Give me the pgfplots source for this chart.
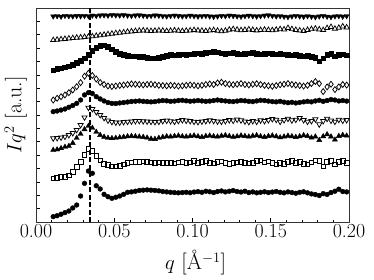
\documentclass[border=0pt]{standalone}
\usepackage{pgfplots}
\usepackage{pgfplotstable}
\pgfplotsset{compat=1.18}
\pgfplotstableread{
q s1 s2 s3 s4 s5 s6 s7 s8 s9
0.0110 0.40 3.27 5.38 6.26 8.25 9.12 11.36 13.60 15.38
0.0135 0.47 3.31 5.42 6.28 8.30 9.25 11.44 13.63 15.40
0.0160 0.58 3.36 5.51 6.32 8.37 9.37 11.49 13.66 15.36
0.0185 0.70 3.39 5.61 6.38 8.45 9.50 11.57 13.69 15.42
0.0210 0.82 3.50 5.68 6.50 8.58 9.67 11.66 13.72 15.40
0.0235 1.05 3.75 5.90 6.65 8.71 9.87 11.78 13.75 15.38
0.0260 1.27 4.10 6.28 6.88 8.87 10.12 11.89 13.78 15.41
0.0285 1.94 4.50 6.58 7.25 9.12 10.42 12.07 13.80 15.39
0.0310 2.89 5.00 6.93 7.82 9.50 10.90 12.26 13.83 15.42
0.0335 3.81 5.45 7.18 8.55 9.67 11.12 12.49 13.86 15.40
0.0360 3.64 5.30 7.03 8.45 9.61 10.95 12.79 13.88 15.44
0.0385 2.71 4.95 6.73 8.22 9.37 10.69 13.01 13.92 15.42
0.0410 2.47 4.60 6.50 8.00 9.20 10.43 13.20 13.96 15.45
0.0435 2.07 4.35 6.36 7.78 9.05 10.28 13.23 14.00 15.46
0.0460 1.89 4.25 6.28 7.59 8.93 10.17 13.12 14.04 15.44
0.0485 1.77 4.15 6.26 7.48 8.87 10.13 12.93 14.08 15.48
0.0510 1.85 4.15 6.28 7.44 8.86 10.17 12.75 14.12 15.46
0.0535 1.94 4.20 6.32 7.44 8.90 10.21 12.60 14.15 15.45
0.0560 2.07 4.30 6.36 7.48 8.93 10.24 12.52 14.18 15.47
0.0585 2.22 4.40 6.40 7.50 8.97 10.28 12.45 14.22 15.44
0.0610 2.25 4.45 6.42 7.52 9.01 10.32 12.41 14.25 15.42
0.0635 2.30 4.48 6.40 7.55 9.03 10.30 12.40 14.28 15.45
0.0660 2.36 4.50 6.38 7.56 9.05 10.28 12.38 14.30 15.46
0.0685 2.38 4.52 6.35 7.54 9.02 10.25 12.35 14.32 15.43
0.0710 2.40 4.48 6.30 7.52 9.00 10.28 12.30 14.30 15.40
0.0735 2.38 4.45 6.22 7.50 8.98 10.30 12.26 14.28 15.42
0.0760 2.36 4.42 6.20 7.48 9.00 10.26 12.25 14.30 15.45
0.0785 2.33 4.45 6.28 7.50 9.05 10.22 12.30 14.32 15.43
0.0810 2.28 4.40 6.35 7.55 9.08 10.20 12.38 14.30 15.40
0.0835 2.25 4.44 6.40 7.58 9.06 10.18 12.45 14.28 15.38
0.0860 2.22 4.42 6.38 7.54 9.02 10.22 12.50 14.30 15.42
0.0885 2.20 4.38 6.42 7.50 9.04 10.20 12.48 14.33 15.44
0.0910 2.18 4.45 6.45 7.56 9.08 10.16 12.52 14.30 15.41
0.0935 2.20 4.50 6.40 7.62 9.10 10.18 12.55 14.28 15.38
0.0960 2.22 4.42 6.38 7.58 9.06 10.22 12.50 14.30 15.40
0.0985 2.19 4.46 6.42 7.55 9.03 10.25 12.55 14.32 15.43
0.1010 2.24 4.55 6.46 7.50 9.05 10.22 12.60 14.35 15.40
0.1035 2.27 4.40 6.40 7.48 9.08 10.18 12.62 14.32 15.37
0.1060 2.22 4.50 6.35 7.52 9.05 10.22 12.58 14.30 15.40
0.1085 2.30 4.55 6.42 7.55 9.02 10.28 12.65 14.28 15.42
0.1110 2.26 4.42 6.45 7.60 9.04 10.32 12.70 14.32 15.38
0.1135 2.20 4.38 6.40 7.56 9.08 10.28 12.72 14.35 15.35
0.1160 2.28 4.48 6.38 7.52 9.12 10.40 12.68 14.30 15.38
0.1185 2.32 4.52 6.44 7.50 9.08 10.45 12.62 14.26 15.42
0.1210 2.25 4.40 6.48 7.55 9.05 10.35 12.58 14.30 15.40
0.1235 2.30 4.36 6.42 7.62 9.02 10.30 12.62 14.38 15.44
0.1260 2.35 4.40 6.36 7.58 9.00 10.26 12.66 14.42 15.41
0.1285 2.28 4.45 6.40 7.66 9.04 10.30 12.60 14.38 15.38
0.1310 2.24 4.50 6.46 7.60 9.08 10.35 12.55 14.34 15.36
0.1335 2.30 4.42 6.42 7.52 9.06 10.28 12.58 14.36 15.40
0.1360 2.20 4.38 6.38 7.48 9.02 10.25 12.62 14.40 15.43
0.1385 2.25 4.40 6.44 7.55 9.00 10.30 12.65 14.36 15.40
0.1410 2.18 4.55 6.48 7.50 9.05 10.34 12.60 14.32 15.37
0.1435 2.22 4.60 6.40 7.60 9.10 10.28 12.56 14.35 15.40
0.1460 2.26 4.45 6.35 7.55 9.08 10.22 12.60 14.38 15.44
0.1485 2.20 4.52 6.42 7.62 9.04 10.18 12.62 14.36 15.46
0.1510 2.24 4.40 6.46 7.70 9.00 10.15 12.58 14.34 15.42
0.1535 2.28 4.32 6.40 7.65 8.98 10.20 12.55 14.38 15.38
0.1560 2.22 4.40 6.32 7.50 9.02 10.26 12.60 14.42 15.40
0.1585 2.18 4.36 6.38 7.62 8.96 10.30 12.56 14.40 15.36
0.1610 2.25 4.50 6.44 7.72 8.92 10.35 12.50 14.50 15.33
0.1635 2.20 4.55 6.40 7.60 8.95 10.28 12.48 14.42 15.38
0.1660 2.15 4.42 6.35 7.65 8.90 10.24 12.52 14.36 15.42
0.1685 2.22 4.48 6.40 7.78 8.94 10.20 12.45 14.32 15.38
0.1710 2.26 4.35 6.48 7.62 8.98 10.16 12.40 14.28 15.35
0.1735 2.18 4.30 6.42 7.50 9.02 10.22 12.42 14.36 15.40
0.1760 2.10 4.45 6.30 7.55 8.98 10.35 12.38 14.42 15.36
0.1785 2.05 4.60 6.38 7.68 9.05 10.50 12.30 14.46 15.32
0.1810 1.98 4.55 6.12 7.30 9.10 10.35 12.02 14.40 15.38
0.1835 2.12 4.15 6.40 7.55 9.02 9.75 12.25 14.35 15.42
0.1860 2.06 4.50 6.55 7.72 9.08 10.10 12.50 14.50 15.36
0.1885 2.20 4.58 6.38 7.58 9.15 10.30 12.60 14.58 15.33
0.1910 2.30 4.30 6.15 7.50 9.12 9.90 12.40 14.45 15.38
0.1935 2.45 4.48 6.42 7.65 9.05 10.10 12.50 14.52 15.40
0.1960 2.28 4.55 6.50 7.58 9.08 10.28 12.55 14.62 15.36
0.1985 2.25 4.42 6.45 7.62 9.04 10.24 12.48 14.55 15.40
}\datatable
\begin{document}
\begin{tikzpicture}
\begin{axis}[
  scale only axis,
  width=313bp, height=214bp,
  xmin=0, xmax=0.2, ymin=0, ymax=16,
  xtick={0,0.05,0.1,0.15,0.2},
  minor xtick={0.01,0.02,0.03,0.04,0.06,0.07,0.08,0.09,0.11,0.12,0.13,0.14,0.16,0.17,0.18,0.19},
  xticklabels={0.00,0.05,0.10,0.15,0.20},
  ytick={1,2,...,15},
  yticklabels={},
  xtick pos=bottom, ytick pos=left,
  tick align=inside,
  major tick length=4pt, minor tick length=2.5pt,
  tick style={black, line width=0.6pt},
  axis line style={line width=0.7pt, black!80},
  tick label style={font=\fontsize{20}{24}\selectfont},
  xticklabel style={inner sep=2pt},
  label style={font=\fontsize{22}{26}\selectfont},
  xlabel={$q$ [\AA$^{-1}$]},
  ylabel={$Iq^2$ [a.u.]},
  every axis y label/.append style={at={(axis description cs:-0.065,0.5)}, anchor=center},
  every axis x label/.append style={at={(axis description cs:0.51,-0.224)}, anchor=base},
  clip=false,
]
\addplot[only marks, mark=*, mark size=2.4pt, black] table[x=q,y=s1] {\datatable};
\addplot[only marks, mark=square, mark size=2.3pt, black, mark options={line width=0.75pt}] table[x=q,y=s2] {\datatable};
\addplot[only marks, mark=triangle*, mark size=3pt, black] table[x=q,y=s3] {\datatable};
\addplot[only marks, mark=triangle, mark size=3pt, black, mark options={rotate=180, line width=0.75pt}] table[x=q,y=s4] {\datatable};
\addplot[only marks, mark=*, mark size=2.4pt, black] table[x=q,y=s5] {\datatable};
\addplot[only marks, mark=diamond, mark size=3pt, black, mark options={line width=0.75pt}] table[x=q,y=s6] {\datatable};
\addplot[only marks, mark=square*, mark size=2.3pt, black] table[x=q,y=s7] {\datatable};
\addplot[only marks, mark=triangle, mark size=3pt, black, mark options={line width=0.75pt}] table[x=q,y=s8] {\datatable};
\addplot[only marks, mark=triangle*, mark size=3pt, black, mark options={rotate=180}] table[x=q,y=s9] {\datatable};
\addplot[black, line width=1.2pt, dash pattern=on 5pt off 2.5pt] coordinates {(0.0345,0) (0.0345,16)};
\end{axis}
\path (current axis.south west) ++(-36bp,-58bp) coordinate (bbA);
\path (current axis.south west) ++(338bp,222bp) coordinate (bbB);
\path (bbA) rectangle (bbB);
\end{tikzpicture}
\end{document}
